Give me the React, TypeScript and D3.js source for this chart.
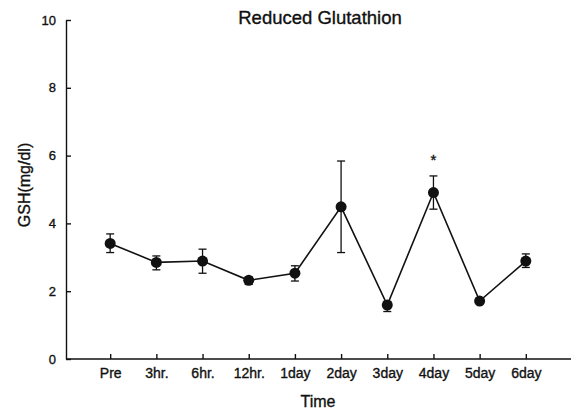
import React, { useEffect, useRef } from 'react';
import * as d3 from 'd3';

const timepoints = ['Pre', '3hr.', '6hr.', '12hr.', '1day', '2day', '3day', '4day', '5day', '6day'];
const gshMean = [3.41, 2.85, 2.89, 2.32, 2.53, 4.49, 1.59, 4.91, 1.71, 2.89];
const gshUpper = [3.69, 3.04, 3.24, 2.42, 2.75, 5.84, 1.7, 5.4, 1.74, 3.1];
const gshLower = [3.14, 2.63, 2.53, 2.2, 2.3, 3.14, 1.4, 4.42, 1.68, 2.7];
const significant = ['4day'];
const yTicks = [0, 2, 4, 6, 8, 10];

const W = 573;
const H = 411;

export default function App() {
  const ref = useRef<SVGSVGElement>(null);

  useEffect(() => {
    const svg = d3.select(ref.current);
    svg.selectAll('*').remove();
    const font = '"Liberation Sans", Arial, sans-serif';

    const x = d3.scalePoint<string>().domain(timepoints).range([64, 572]).padding(1);
    const y = d3.scaleLinear().domain([0, 10]).range([359, 20]);

    const rows = timepoints.map((t, i) => ({
      t,
      m: gshMean[i],
      hi: gshUpper[i],
      lo: gshLower[i],
    }));

    // text helper: scanned print looks heavier than plain regular
    const ink = (sel: any, size: number) =>
      sel
        .attr('font-family', font)
        .attr('font-size', size)
        .attr('fill', '#111')
        .attr('stroke', '#111')
        .attr('stroke-width', 0.35);

    // axes
    const yAxis = svg
      .append('g')
      .attr('transform', 'translate(66,0)')
      .call(d3.axisLeft(y).tickValues(yTicks).tickSize(-5).tickSizeOuter(0).tickPadding(10));
    yAxis.select('.domain').attr('stroke', '#111').attr('stroke-width', 1.4);
    yAxis.selectAll('.tick line').attr('stroke', '#111').attr('stroke-width', 1.4);
    ink(yAxis.selectAll('.tick text'), 13);

    const xAxis = svg
      .append('g')
      .attr('transform', 'translate(0,359)')
      .call(d3.axisBottom(x).tickSize(-5).tickSizeOuter(0).tickPadding(9));
    xAxis.select('.domain').attr('d', 'M66,0H571').attr('stroke', '#111').attr('stroke-width', 1.4);
    xAxis.selectAll('.tick line').attr('stroke', '#111').attr('stroke-width', 1.4);
    ink(xAxis.selectAll('.tick text'), 14);

    // line
    const line = d3
      .line<{ t: string; m: number }>()
      .x((d) => x(d.t)!)
      .y((d) => y(d.m));
    svg
      .append('path')
      .datum(rows)
      .attr('d', line)
      .attr('fill', 'none')
      .attr('stroke', '#111')
      .attr('stroke-width', 1.6);

    // error bars
    const eb = svg.append('g').attr('stroke', '#111').attr('stroke-width', 1.3);
    rows.forEach((d) => {
      const cx = x(d.t)!;
      eb.append('line').attr('x1', cx).attr('x2', cx).attr('y1', y(d.hi)).attr('y2', y(d.lo));
      eb.append('line').attr('x1', cx - 4).attr('x2', cx + 4).attr('y1', y(d.hi)).attr('y2', y(d.hi));
      eb.append('line').attr('x1', cx - 4).attr('x2', cx + 4).attr('y1', y(d.lo)).attr('y2', y(d.lo));
    });

    // markers
    svg
      .append('g')
      .selectAll('circle')
      .data(rows)
      .enter()
      .append('circle')
      .attr('cx', (d) => x(d.t)!)
      .attr('cy', (d) => y(d.m))
      .attr('r', 5.5)
      .attr('fill', '#111');

    // significance marks
    ink(
      svg
        .append('g')
        .selectAll('text')
        .data(rows.filter((d) => significant.includes(d.t)))
        .enter()
        .append('text')
        .attr('x', (d) => x(d.t)!)
        .attr('y', (d) => y(d.hi) - 11)
        .attr('text-anchor', 'middle')
        .text('*'),
      15,
    );

    // titles
    ink(
      svg
        .append('text')
        .attr('x', 320)
        .attr('y', 24)
        .attr('text-anchor', 'middle')
        .text('Reduced Glutathion'),
      18.5,
    );

    ink(
      svg
        .append('text')
        .attr('x', 318)
        .attr('y', 407)
        .attr('text-anchor', 'middle')
        .text('Time'),
      16,
    );

    ink(
      svg
        .append('text')
        .attr('transform', 'translate(30,185) rotate(-90)')
        .attr('text-anchor', 'middle')
        .text('GSH(mg/dl)'),
      16,
    );
  });

  return (
    <svg
      ref={ref}
      width={W}
      height={H}
      style={{ position: 'absolute', left: 0, top: 0, background: '#fff' }}
    />
  );
}
